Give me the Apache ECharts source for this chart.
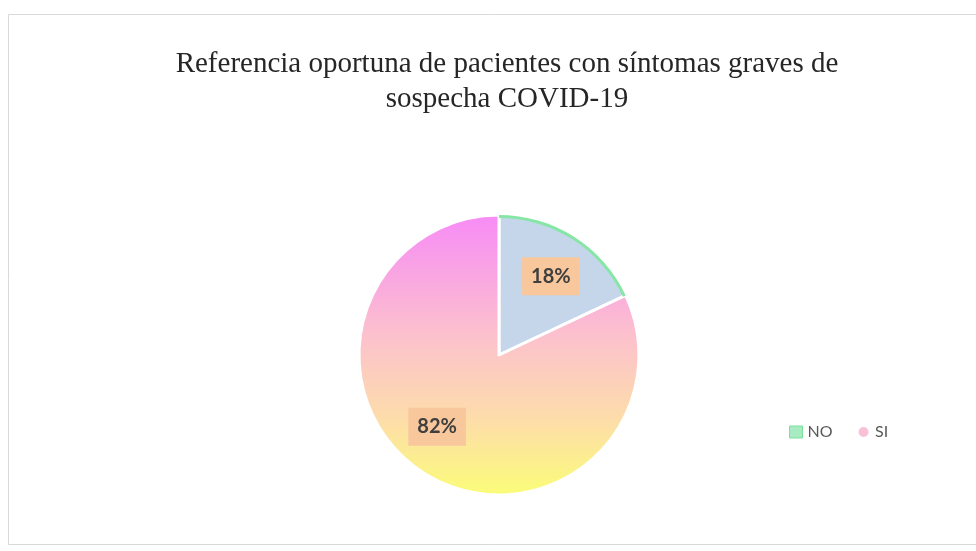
<!DOCTYPE html>
<html>
<head>
<meta charset="utf-8">
<script src="https://cdn.jsdelivr.net/npm/echarts@6/dist/echarts.min.js"></script>
<style>html,body{margin:0;padding:0;background:#fff}#c{width:976px;height:551px}</style>
</head>
<body>
<div id="c"></div>
<script>
const titleLines = ['Referencia oportuna de pacientes con síntomas graves de', 'sospecha COVID-19'];
const categories = ['NO', 'SI'];
const values = [18, 82];
const labels = ['18%', '82%'];

const chart = echarts.init(document.getElementById('c'));
const siGradient = new echarts.graphic.LinearGradient(0, 0, 0, 1, [
  {offset: 0, color: '#f78bf7'},
  {offset: 0.45, color: '#fcc3cb'},
  {offset: 0.72, color: '#fddcab'},
  {offset: 1, color: '#fbfd78'}
]);
const fills = ['#c6d6ea', siGradient];
const rimColors = ['#86e6a6', 'rgba(0,0,0,0)'];

const center = [499, 355];
const R = 140;

chart.setOption({
  animation: false,
  backgroundColor: '#fff',
  title: {
    text: titleLines.join('\n'),
    left: 502, top: 42, textAlign: 'center',
    textStyle: {fontFamily: 'Liberation Serif', fontSize: 29, fontWeight: 'normal', color: '#262626', lineHeight: 35}
  },
  graphic: [{
    type: 'rect', shape: {x: 8.5, y: 14.5, width: 990, height: 530},
    style: {fill: 'none', stroke: '#d9d9d9', lineWidth: 1}, silent: true
  }],
  legend: {
    left: 784, top: 419, itemWidth: 13, itemHeight: 12, itemGap: 24,
    textStyle: {fontFamily: 'Lato', fontSize: 16, color: '#595959'},
    data: [
      {name: categories[0], icon: 'rect', itemStyle: {color: '#a6ecc0', borderColor: '#7fdf9f', borderWidth: 1}},
      {name: categories[1], icon: 'circle', itemStyle: {color: '#f9c0d8'}}
    ]
  },
  series: [{
    type: 'pie', center: center, radius: [0, R], startAngle: 90, clockwise: true,
    label: {show: false}, labelLine: {show: false}, silent: true,
    itemStyle: {borderColor: '#fff', borderWidth: 3},
    data: categories.map((c, i) => ({name: c, value: values[i], itemStyle: {color: fills[i]}}))
  }, {
    type: 'pie', center: center, radius: [R - 3, R], startAngle: 90, clockwise: true,
    label: {show: false}, labelLine: {show: false}, silent: true,
    itemStyle: {borderWidth: 0},
    data: categories.map((c, i) => ({name: c, value: values[i], itemStyle: {color: rimColors[i]}}))
  }, {
    type: 'pie', center: center, radius: [0, R * 1.34], startAngle: 90, clockwise: true,
    silent: true, itemStyle: {color: 'rgba(0,0,0,0)'},
    labelLine: {show: false},
    label: {
      show: true, position: 'inside',
      formatter: p => labels[p.dataIndex],
      backgroundColor: '#f8c89c', padding: [10, 9, 8, 9],
      fontFamily: 'Lato', fontWeight: 'bold', fontSize: 20, color: '#3f3f3f'
    },
    labelLayout: p => p.dataIndex === 1 ? {dx: -10, dy: -10} : {dy: 3},
    data: categories.map((c, i) => ({name: c, value: values[i]}))
  }]
});
</script>
</body>
</html>
